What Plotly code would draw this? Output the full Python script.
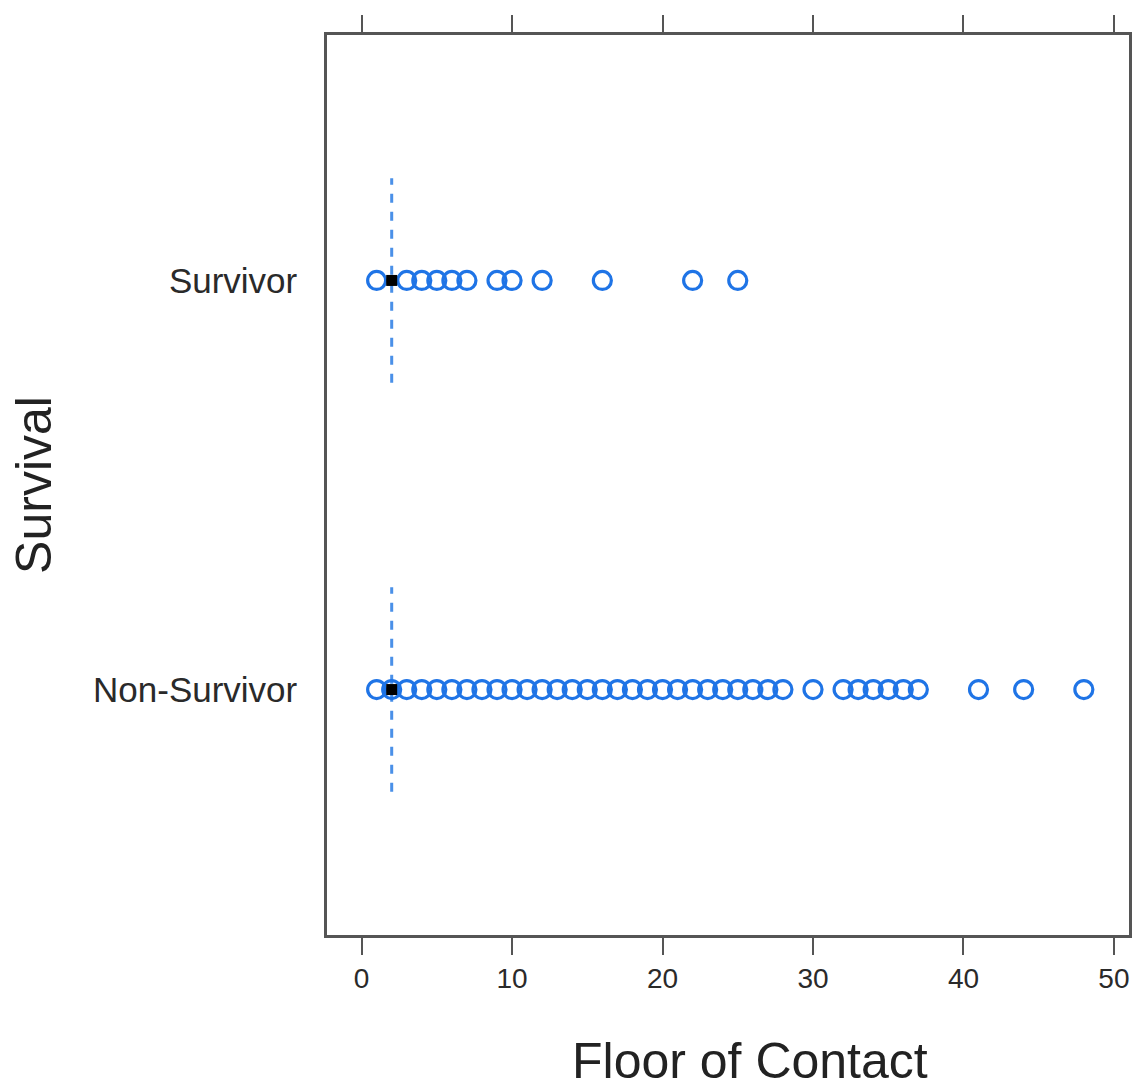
import plotly.graph_objects as go

groups = ["Non-Survivor", "Survivor"]
group_pos = [1, 2]
medians = [2, 2]
box_half = 0.25

survivor_out = [1, 3, 4, 5, 6, 7, 9, 10, 12, 16, 22, 25]
nonsurvivor_out = list(range(1, 29)) + [30, 32, 33, 34, 35, 36, 37, 41, 44, 48]
outliers = [nonsurvivor_out, survivor_out]

x_ticks = [0, 10, 20, 30, 40, 50]

BLUE = "#1f74e6"
fig = go.Figure()

for g, pos, med, pts in zip(groups, group_pos, medians, outliers):
    fig.add_trace(go.Scatter(
        x=[med, med], y=[pos - box_half, pos + box_half], mode="lines",
        line=dict(color="#4a90e8", width=3, dash="dash"), showlegend=False, hoverinfo="skip"))
    fig.add_trace(go.Scatter(
        x=pts, y=[pos] * len(pts), mode="markers",
        marker=dict(symbol="circle-open", size=18, color=BLUE, line=dict(width=3.2, color=BLUE)),
        showlegend=False, name=g))
    fig.add_trace(go.Scatter(
        x=[med], y=[pos], mode="markers",
        marker=dict(symbol="square", size=11, color="black"), showlegend=False))

axis_col = "#555555"
fig.update_layout(
    width=1139, height=1091,
    margin=dict(l=327, r=7, t=35, b=156),
    paper_bgcolor="white", plot_bgcolor="white",
    font=dict(family="Liberation Sans, Arial, sans-serif", color="#222222"),
    xaxis=dict(
        range=[-2.3, 51.0], tickvals=x_ticks, ticks="outside", ticklen=17, tickwidth=2,
        tickcolor=axis_col, showline=True, linecolor=axis_col, linewidth=2.5, mirror="ticks",
        showgrid=False, zeroline=False, tickfont=dict(size=28, color="#2a2a2a")),
    yaxis=dict(
        range=[0.4, 2.6], tickvals=group_pos, ticktext=groups, ticks="", showline=True,
        linecolor=axis_col, linewidth=2.5, mirror=True, showgrid=False, zeroline=False,
        tickfont=dict(size=35, color="#2a2a2a"), ticklabelstandoff=20,
        title=dict(text="Survival", font=dict(size=50, color="#222222"), standoff=26)),
    annotations=[dict(
        text="Floor of Contact", xref="paper", yref="paper", x=0.528, y=-0.14,
        xanchor="center", yanchor="middle", showarrow=False,
        font=dict(size=50, color="#222222"))],
)

fig.write_html("out.html", config={"displayModeBar": False},
               post_script="document.body.style.margin='0px';document.body.style.overflow='hidden';")
